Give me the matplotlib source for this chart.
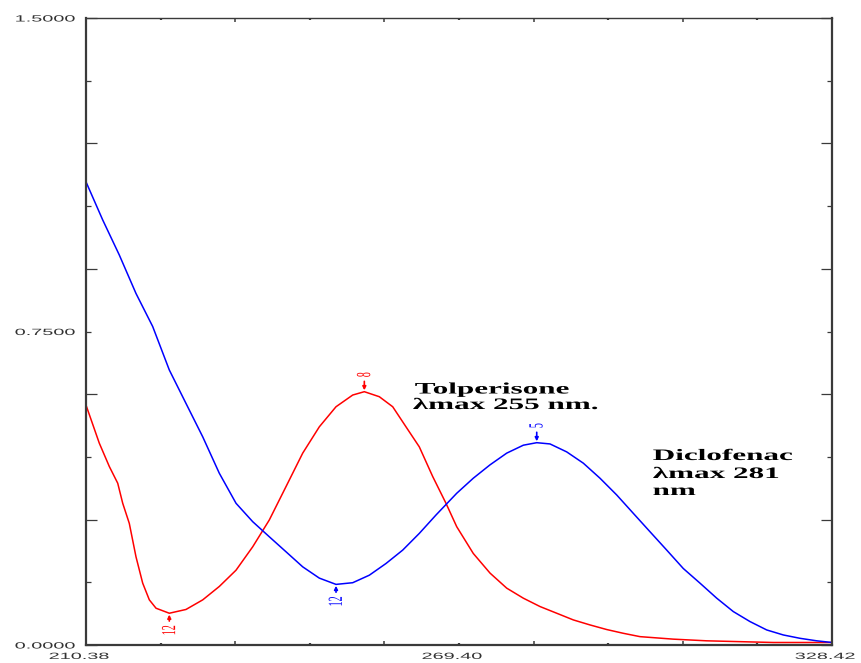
import numpy as np
import matplotlib
matplotlib.use("Agg")
import matplotlib.pyplot as plt
from matplotlib.patheffects import AbstractPathEffect
from matplotlib.transforms import Affine2D

# ---------------- data ----------------
x_min, x_max = 210.38, 328.42
y_min, y_max = 0.0, 1.5

tol_wl = [210.38, 212.48, 214.07, 215.40, 216.19, 217.23, 218.29, 219.35, 220.40,
          221.46, 223.56, 226.20, 228.85, 231.47, 234.12, 236.76, 239.38, 242.03,
          244.67, 247.30, 249.94, 252.58, 254.42, 256.79, 258.91, 261.01, 263.12,
          265.24, 267.34, 269.04, 271.66, 274.31, 276.95, 279.58, 282.22, 284.86,
          287.49, 290.13, 292.77, 295.40, 298.04, 303.31, 308.59, 313.86, 319.13,
          328.42]
tol_abs = [0.574, 0.483, 0.427, 0.387, 0.339, 0.291, 0.211, 0.148, 0.108,
           0.088, 0.076, 0.085, 0.108, 0.140, 0.179, 0.235, 0.299, 0.379,
           0.459, 0.522, 0.570, 0.598, 0.606, 0.594, 0.570, 0.522, 0.474,
           0.403, 0.339, 0.283, 0.219, 0.172, 0.136, 0.112, 0.092, 0.076,
           0.060, 0.048, 0.037, 0.028, 0.020, 0.014, 0.010, 0.008, 0.006,
           0.006]

dic_wl = [210.38, 213.02, 215.65, 218.29, 220.93, 223.56, 226.20, 228.85, 231.47,
          234.12, 236.76, 239.38, 242.03, 244.67, 247.30, 249.94, 252.58, 255.21,
          257.85, 260.49, 263.12, 265.76, 269.04, 271.66, 274.31, 276.95, 279.58,
          281.70, 283.80, 286.44, 289.07, 291.71, 294.35, 296.98, 299.62, 302.27,
          304.89, 307.53, 310.18, 312.80, 315.45, 318.09, 320.72, 323.36, 326.00,
          328.42]
dic_abs = [1.108, 1.017, 0.933, 0.841, 0.762, 0.658, 0.578, 0.498, 0.411,
           0.339, 0.295, 0.259, 0.223, 0.187, 0.160, 0.145, 0.149, 0.167,
           0.195, 0.227, 0.267, 0.311, 0.363, 0.399, 0.431, 0.459, 0.478,
           0.484, 0.481, 0.462, 0.435, 0.399, 0.359, 0.315, 0.271, 0.227,
           0.183, 0.148, 0.112, 0.080, 0.056, 0.036, 0.024, 0.016, 0.010,
           0.006]

# peak / valley markers: wavelength, absorbance, label, series colour, direction
mark_wl = [254.42, 281.70, 223.56, 249.94]
mark_abs = [0.606, 0.484, 0.076, 0.145]
mark_lab = ["8", "5", "12", "12"]
mark_col = ["#ff0000", "#0000ff", "#ff0000", "#0000ff"]
mark_dir = [1, 1, -1, -1]

x_tick_labels = ["210.38", "269.40", "328.42"]
y_tick_labels = ["0.0000", "0.7500", "1.5000"]

ann_tol = ["Tolperisone", "\u03bbmax 255 nm."]
ann_dic = ["Diclofenac", "\u03bbmax 281", "nm"]


# ---------------- horizontal stretch path effect ----------------
class StretchX(AbstractPathEffect):
    def __init__(self, sx=2.0, anchor="left", dx=0.0):
        super().__init__()
        self.sx = sx
        self.anchor = anchor
        self.dx = dx

    def draw_path(self, renderer, gc, tpath, affine, rgbFace=None):
        ext = tpath.get_extents(affine)
        if self.anchor == "left":
            x0 = ext.x0
        elif self.anchor == "right":
            x0 = ext.x1
        else:
            x0 = 0.5 * (ext.x0 + ext.x1)
        t = affine + Affine2D().translate(-x0, 0).scale(self.sx, 1.0).translate(x0 + self.dx, 0)
        renderer.draw_path(gc, tpath, t, rgbFace)


# ---------------- figure ----------------
W, H = 861, 663
fig = plt.figure(figsize=(W / 100, H / 100), dpi=100)
L, R, T, B = 86, 832, 18, 645
ax = fig.add_axes([L / W, (H - B) / H, (R - L) / W, (B - T) / H])

ax.plot(tol_wl, tol_abs, color="#ff0000", lw=1.1)
ax.plot(dic_wl, dic_abs, color="#0000ff", lw=1.1)

ax.set_xlim(x_min, x_max)
ax.set_ylim(y_min, y_max)

# ticks
xt = np.linspace(x_min, x_max, 11)
yt = np.linspace(y_min, y_max, 11)
ax.set_xticks(xt[::2], labels=[x_tick_labels[0], "", "", "", "", x_tick_labels[2]])
ax.set_xticks(xt[1::2], labels=["", "", x_tick_labels[1], "", ""], minor=True)
ax.set_yticks(yt[::2], labels=[y_tick_labels[0], "", "", "", "", y_tick_labels[2]])
ax.set_yticks(yt[1::2], labels=["", "", y_tick_labels[1], "", ""], minor=True)

spine_col = "#3a3a3a"
ax.tick_params(which="both", direction="in", top=True, right=True,
               color=spine_col, labelcolor="#333333", labelsize=6.5)
ax.tick_params(axis="x", which="major", length=3, width=1.1, pad=5)
ax.tick_params(axis="x", which="minor", length=1.2, width=1.6, pad=5)
ax.tick_params(axis="y", which="major", length=8, width=0.9, pad=8)
ax.tick_params(axis="y", which="minor", length=3.5, width=0.9, pad=8)

for lab in ax.get_xticklabels(which="both"):
    lab.set_fontfamily("Liberation Sans")
    lab.set_path_effects([StretchX(2.2, "center", dx=-7)])
for lab in ax.get_yticklabels(which="both"):
    lab.set_fontfamily("Liberation Sans")
    lab.set_path_effects([StretchX(2.2, "right")])

for side in ["left", "right", "bottom"]:
    ax.spines[side].set_linewidth(1.6)
    ax.spines[side].set_color(spine_col)
ax.spines["top"].set_linewidth(1.0)
ax.spines["top"].set_color(spine_col)

# peak / valley markers
for xw, ya, lab, col, d in zip(mark_wl, mark_abs, mark_lab, mark_col, mark_dir):
    ax.annotate(lab, xy=(xw, ya), xytext=(0, d * 17), textcoords="offset pixels",
                ha="center", va="center", rotation=90, color=col,
                fontsize=7.2, family="Liberation Serif",
                path_effects=[StretchX(2.0, "center")],
                arrowprops=dict(arrowstyle="-|>", color=col, lw=1.2,
                                mutation_scale=5, shrinkA=1, shrinkB=1))

# annotations
def ax_frac(px, py):
    return (px - L) / (R - L), (B - py) / (B - T)

tol_pos = [(415, 393.5), (413, 409)]
dic_pos = [(653, 460), (653, 478), (653, 495)]
for txt, (px, py) in zip(ann_tol + ann_dic, tol_pos + dic_pos):
    fx, fy = ax_frac(px, py)
    ax.text(fx, fy, txt, transform=ax.transAxes, ha="left", va="baseline",
            fontsize=11.5, fontweight="bold", family="Liberation Serif",
            color="black", path_effects=[StretchX(1.95, "left")])

fig.savefig("out.png", dpi=100)
